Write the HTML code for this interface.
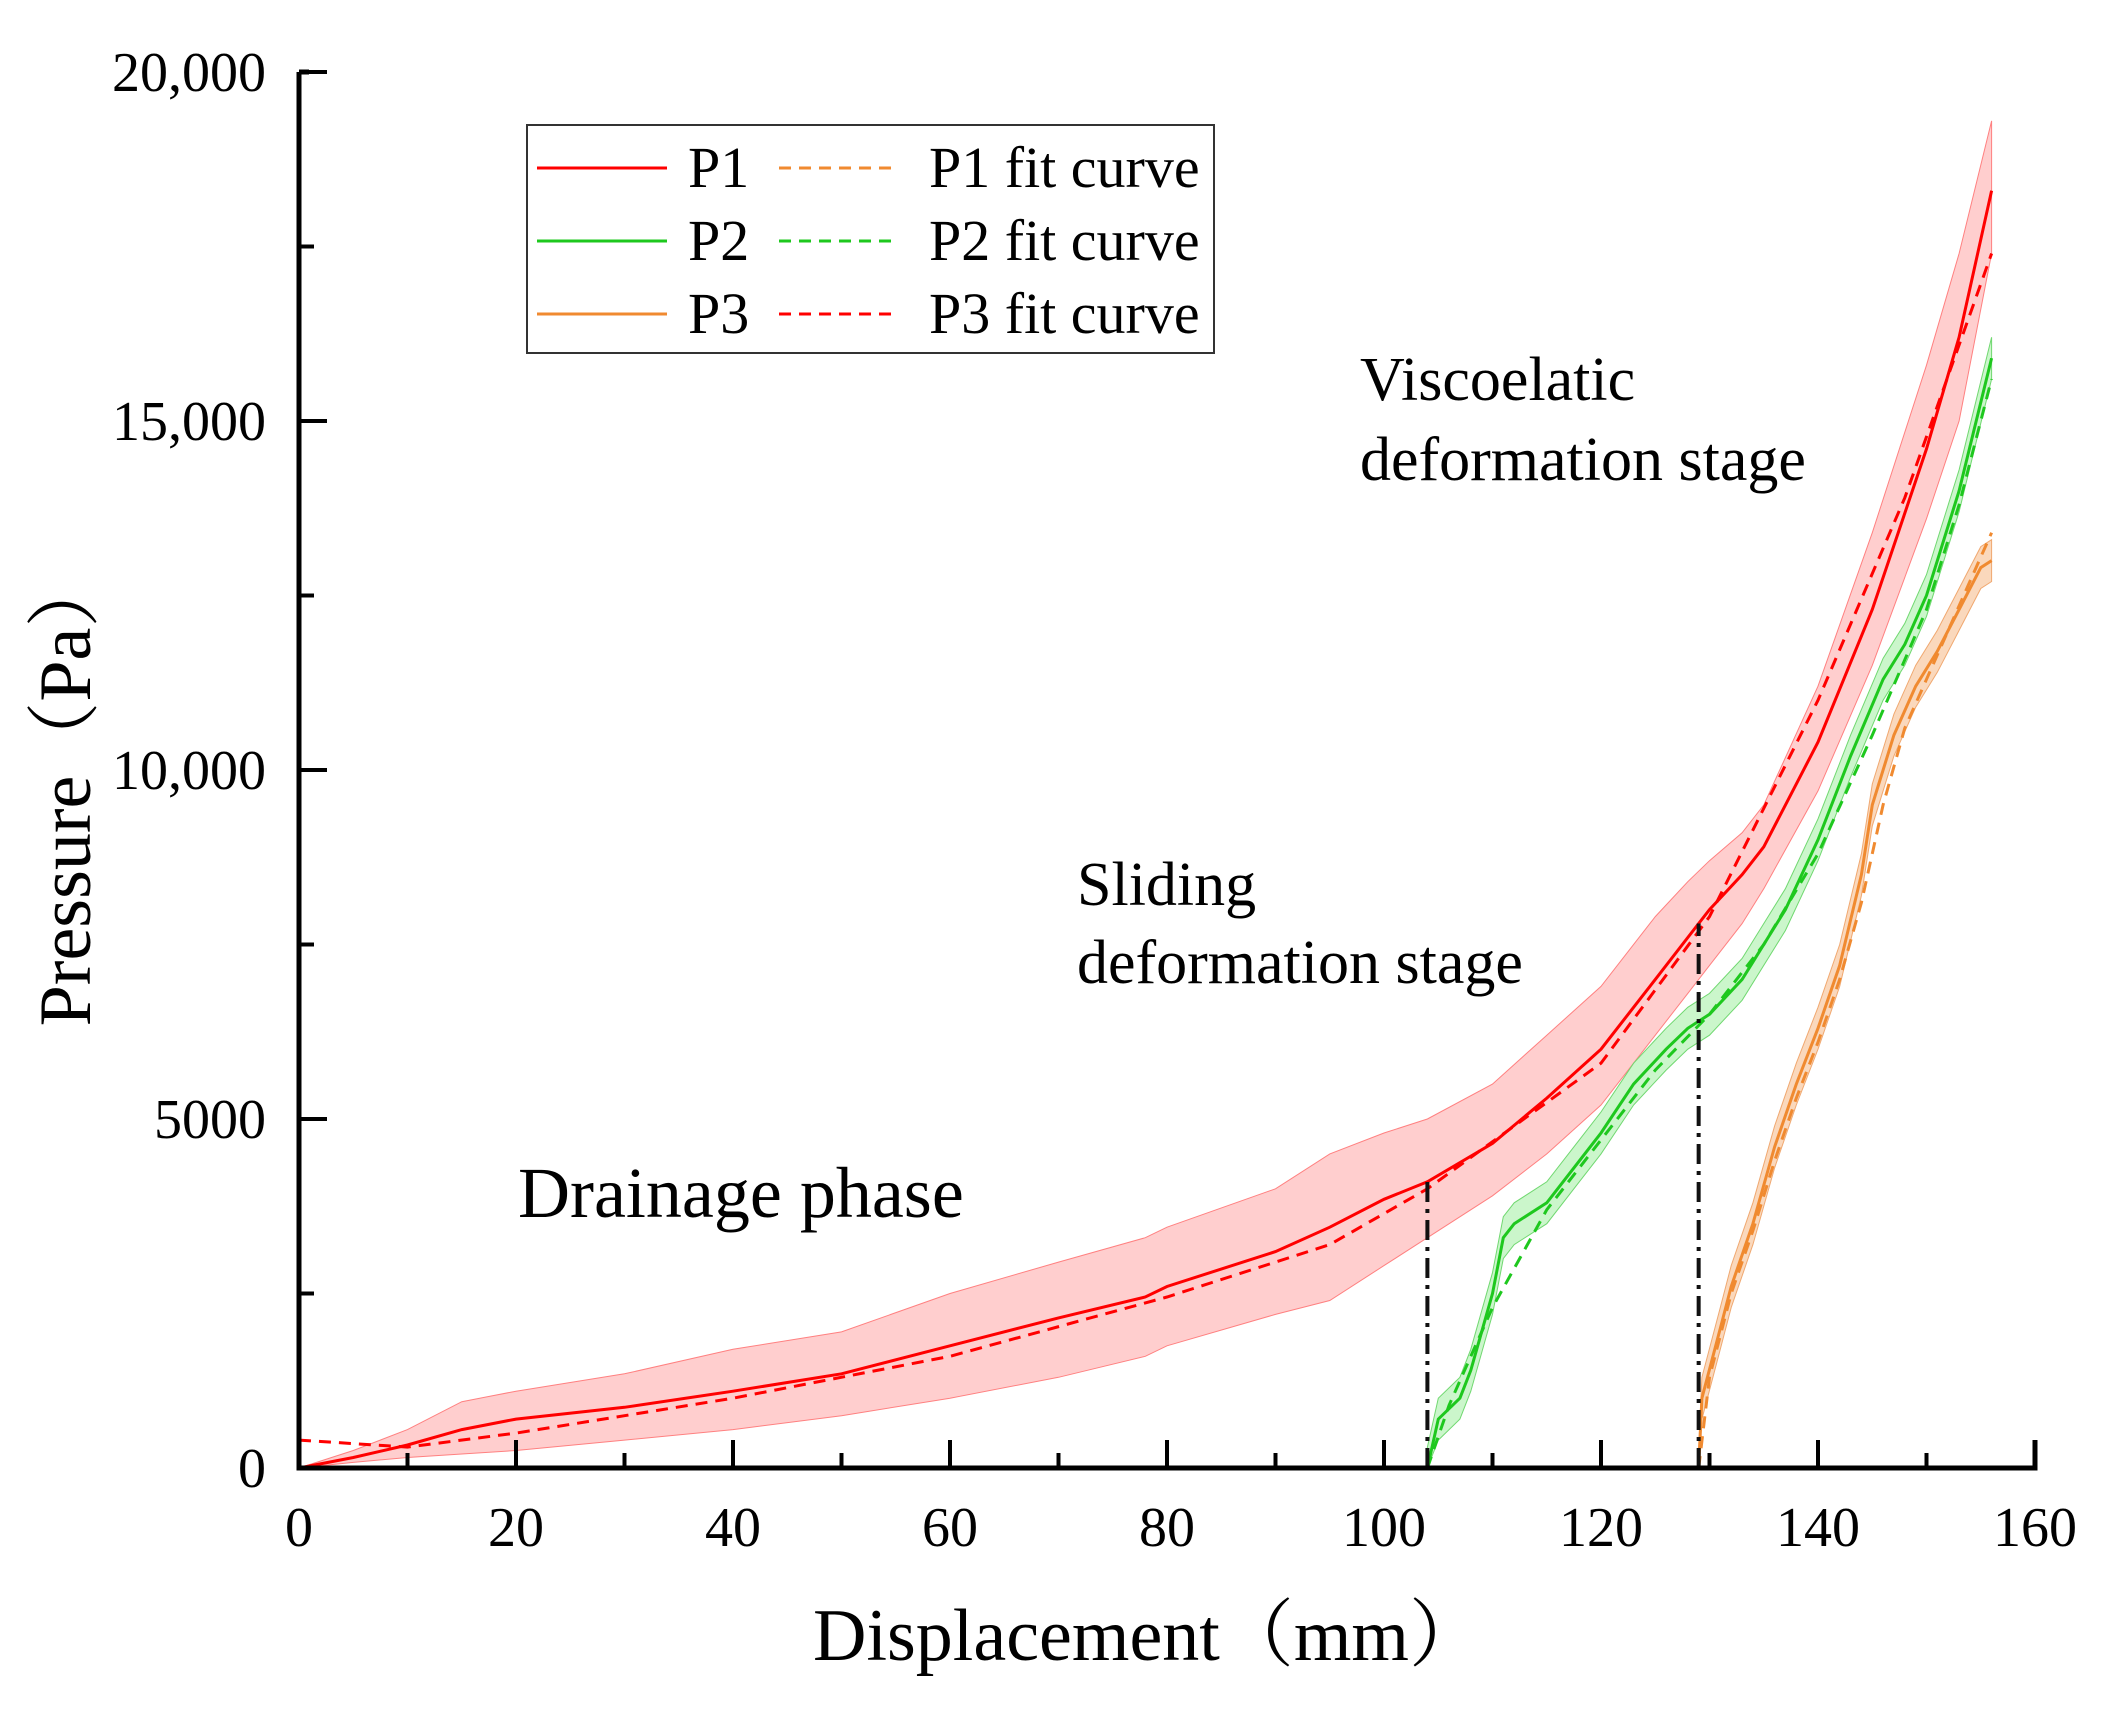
<!DOCTYPE html>
<html><head><meta charset="utf-8"><style>
body{margin:0;background:#fff}
svg{display:block;font-family:"Liberation Serif","Noto Serif CJK SC",serif}
</style></head><body>
<svg id="chart" width="2106" height="1710" viewBox="0 0 2106 1710" xmlns="http://www.w3.org/2000/svg">
<g id="bands"></g><g id="lines"></g><g id="axes"></g>
<g id="legend">
<rect x="527" y="125" width="687" height="228" fill="#fff" stroke="#333" stroke-width="2"/>
<line x1="537" y1="168" x2="667" y2="168" stroke="#f00" stroke-width="3"/>
<text x="688" y="187" font-size="58">P1</text>
<line x1="779" y1="168" x2="896" y2="168" stroke="#f08a30" stroke-width="3" stroke-dasharray="12,8"/>
<text x="929" y="187" font-size="58">P1 fit curve</text>
<line x1="537" y1="241" x2="667" y2="241" stroke="#1ec81e" stroke-width="3"/>
<text x="688" y="260" font-size="58">P2</text>
<line x1="779" y1="241" x2="896" y2="241" stroke="#1ec81e" stroke-width="3" stroke-dasharray="12,8"/>
<text x="929" y="260" font-size="58">P2 fit curve</text>
<line x1="537" y1="314" x2="667" y2="314" stroke="#f08a30" stroke-width="3"/>
<text x="688" y="333" font-size="58">P3</text>
<line x1="779" y1="314" x2="896" y2="314" stroke="#f00" stroke-width="3" stroke-dasharray="12,8"/>
<text x="929" y="333" font-size="58">P3 fit curve</text>
</g>
<text x="1360" y="400" font-size="62">Viscoelatic</text>
<text x="1360" y="480" font-size="62">deformation stage</text>
<text x="1077" y="905" font-size="62">Sliding</text>
<text x="1077" y="983" font-size="62">deformation stage</text>
<text x="518" y="1217" font-size="72">Drainage phase</text>
<text x="1148" y="1660" font-size="74" text-anchor="middle">Displacement（mm）</text>
<text transform="translate(90,790) rotate(-90)" font-size="74" text-anchor="middle">Pressure（Pa）</text>
</svg>
<script>
const p1X=[0,5,10,15,20,30,40,50,60,70,78,80,90,95,100,104,110,115,120,125,128,130,133,135,140,145,150,153,156];
const p1Y=[0,150,330,550,700,870,1100,1350,1750,2150,2450,2600,3100,3450,3850,4100,4650,5300,6000,7000,7600,8000,8500,8900,10400,12300,14600,16200,18300];
const p1Up=[0,250,550,950,1100,1350,1700,1950,2500,2950,3300,3450,4000,4500,4800,5000,5500,6200,6900,7900,8400,8700,9100,9500,11200,13400,15800,17400,19300];
const p1Lo=[0,80,150,200,250,400,550,750,1000,1300,1600,1750,2200,2400,2900,3300,3900,4500,5200,6200,6800,7200,7800,8300,9700,11500,13600,15000,17400];
const p1FitX=[0,10,20,30,40,60,80,95,104,120,130,140,148,156];
const p1FitY=[400,300,500,750,1000,1600,2450,3200,4000,5800,7900,11000,13900,17400];
const p2X=[104,105,107,108,110,111,112,115,118,120,123,126,128,130,133,137,140,143,146,148,150,153,156];
const p2Y=[0,700,1000,1400,2500,3300,3500,3800,4400,4800,5500,6000,6300,6500,7000,8000,9000,10200,11300,11800,12500,14000,15900];
const p2FitX=[104,106,110,115,120,125,130,135,140,145,150,153,156];
const p2FitY=[0,900,2300,3700,4700,5700,6500,7500,8800,10500,12300,13800,15600];
const p3X=[129,129.3,131,132,134,136,138,140,142,144,145,147,149,151,153,155,156];
const p3Y=[0,1000,2000,2600,3500,4600,5500,6300,7200,8500,9500,10500,11200,11700,12300,12900,13000];
const p3FitX=[129,130,132,134,136,138,140,142,144,146,148,150,152,154,156];
const p3FitY=[0,1300,2500,3400,4400,5300,6100,7000,8100,9500,10600,11300,12000,12700,13400];
const xTicks=[0,20,40,60,80,100,120,140,160];
const yTicks=[0,5000,10000,15000,20000];
const yTickLabels=["0","5000","10,000","15,000","20,000"];
const stageX=[104,129];
const stageTop=[4100,7800];

const X0=299,X1=2035,Y0=1468,Y1=72;
const sx=v=>X0+(v-0)/160*(X1-X0);
const sy=v=>Y0-(v/20000)*(Y0-Y1);
const NS="http://www.w3.org/2000/svg";
function mk(tag,parent,attrs){const e=document.createElementNS(NS,tag);for(const k in attrs)e.setAttribute(k,attrs[k]);parent.appendChild(e);return e;}
const pts=(xs,ys)=>xs.map((x,i)=>sx(x).toFixed(1)+","+sy(ys[i]).toFixed(1)).join(" ");
const bands=document.getElementById('bands'),lines=document.getElementById('lines'),axes=document.getElementById('axes');

let poly=mk('polygon',bands,{points:pts(p1X,p1Up)+" "+pts(p1X.slice().reverse(),p1Lo.slice().reverse()),fill:'#ffb3b3','fill-opacity':'0.65',stroke:'#ff8080','stroke-width':1});


let p2Up=p2Y.map(v=>v+300),p2Lo=p2Y.map(v=>Math.max(0,v-300));
poly=mk('polygon',bands,{points:pts(p2X,p2Up)+" "+pts(p2X.slice().reverse(),p2Lo.slice().reverse()),fill:'#a8f0a8','fill-opacity':'0.6',stroke:'#70d870','stroke-width':1});


let p3Up=p3Y.map(v=>v+300),p3Lo=p3Y.map(v=>Math.max(0,v-300));
poly=mk('polygon',bands,{points:pts(p3X,p3Up)+" "+pts(p3X.slice().reverse(),p3Lo.slice().reverse()),fill:'#f8c8a0','fill-opacity':'0.7',stroke:'#f0a870','stroke-width':1});



let l;
l=mk('polyline',lines,{points:pts(p1X,p1Y),fill:'none',stroke:'#f00','stroke-width':3});


l=mk('polyline',lines,{points:pts(p1FitX,p1FitY),fill:'none',stroke:'#f00','stroke-width':3,'stroke-dasharray':'12,8'});


l=mk('polyline',lines,{points:pts(p2X,p2Y),fill:'none',stroke:'#1ec81e','stroke-width':3});


l=mk('polyline',lines,{points:pts(p2FitX,p2FitY),fill:'none',stroke:'#1ec81e','stroke-width':3,'stroke-dasharray':'12,8'});


l=mk('polyline',lines,{points:pts(p3X,p3Y),fill:'none',stroke:'#f08a30','stroke-width':3});


l=mk('polyline',lines,{points:pts(p3FitX,p3FitY),fill:'none',stroke:'#f08a30','stroke-width':3,'stroke-dasharray':'12,8'});


stageX.forEach((x,i)=>{
  const d=mk('line',lines,{x1:sx(x),x2:sx(x),y1:sy(0),y2:sy(stageTop[i]),stroke:'#111','stroke-width':4,'stroke-dasharray':'20,7,4,7'});
  
  
});

let a=mk('path',axes,{d:`M${X0},${Y1} H${X0+10} M${X0},${Y1} V${Y0} H${X1} V${Y0-28}`,fill:'none',stroke:'#000','stroke-width':5});


for(let v=0;v<=160;v+=10){
  const major=v%20===0;
  const t=mk('line',axes,{x1:sx(v),x2:sx(v),y1:Y0,y2:Y0-(major?28:15),stroke:'#000','stroke-width':4});
  
  
}
xTicks.forEach(v=>{
  const t=mk('text',axes,{x:sx(v),y:Y0+78,'font-size':56,'text-anchor':'middle'});
  t.textContent=v;
  
  
});
for(let v=0;v<=20000;v+=2500){
  const major=v%5000===0;
  const t=mk('line',axes,{x1:X0,x2:X0+(major?28:15),y1:sy(v),y2:sy(v),stroke:'#000','stroke-width':4});
  
  
}
yTicks.forEach((v,i)=>{
  const t=mk('text',axes,{x:266,y:sy(v)+19,'font-size':56,'text-anchor':'end'});
  t.textContent=yTickLabels[i];
  
  
});
</script>
</body></html>
